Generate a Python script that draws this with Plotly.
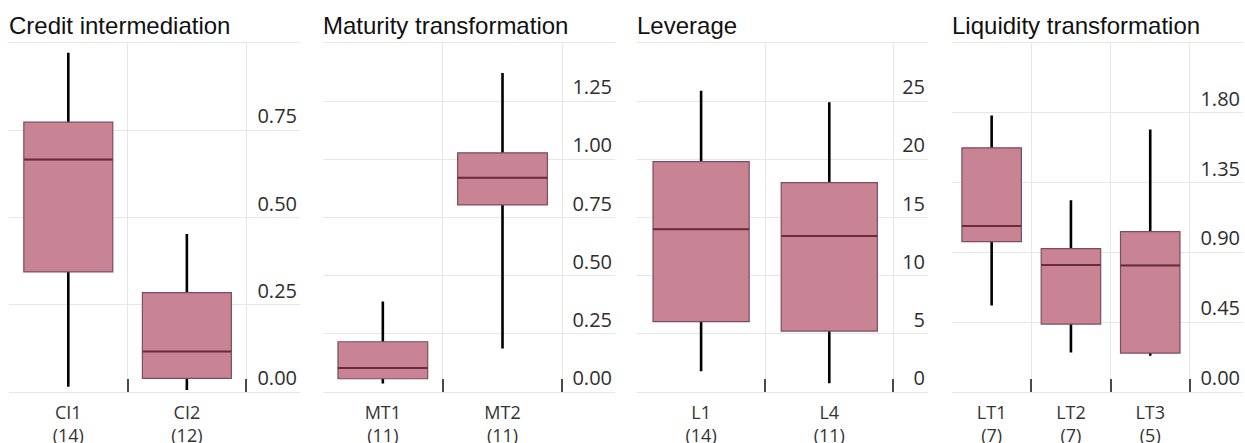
import plotly.graph_objects as go
from plotly.subplots import make_subplots

# panel titles
titles = ["Credit intermediation", "Maturity transformation", "Leverage", "Liquidity transformation"]

# Credit intermediation
ci_cats = ["CI1<br>(14)", "CI2<br>(12)"]
ci_lower = [0.015, 0.006]
ci_q1 = [0.344, 0.039]
ci_median = [0.666, 0.116]
ci_q3 = [0.773, 0.285]
ci_upper = [0.972, 0.453]
ci_ticks = [0, 0.25, 0.5, 0.75]
ci_ticktext = ["0.00", "0.25", "0.50", "0.75"]

# Maturity transformation
mt_cats = ["MT1<br>(11)", "MT2<br>(11)"]
mt_lower = [0.036, 0.187]
mt_q1 = [0.057, 0.804]
mt_median = [0.103, 0.921]
mt_q3 = [0.216, 1.028]
mt_upper = [0.389, 1.371]
mt_ticks = [0, 0.25, 0.5, 0.75, 1.0, 1.25]
mt_ticktext = ["0.00", "0.25", "0.50", "0.75", "1.00", "1.25"]

# Leverage
l_cats = ["L1<br>(14)", "L4<br>(11)"]
l_lower = [1.78, 0.76]
l_q1 = [6.05, 5.24]
l_median = [14.0, 13.4]
l_q3 = [19.8, 18.0]
l_upper = [25.9, 24.9]
l_ticks = [0, 5, 10, 15, 20, 25]
l_ticktext = ["0", "5", "10", "15", "20", "25"]

# Liquidity transformation
lt_cats = ["LT1<br>(7)", "LT2<br>(7)", "LT3<br>(5)"]
lt_lower = [0.557, 0.255, 0.233]
lt_q1 = [0.969, 0.438, 0.251]
lt_median = [1.071, 0.818, 0.816]
lt_q3 = [1.574, 0.924, 1.034]
lt_upper = [1.783, 1.237, 1.692]
lt_ticks = [0, 0.45, 0.9, 1.35, 1.8]
lt_ticktext = ["0.00", "0.45", "0.90", "1.35", "1.80"]

panels = [
    (ci_cats, ci_lower, ci_q1, ci_median, ci_q3, ci_upper, ci_ticks, ci_ticktext, [0, 1.0], 1.954),
    (mt_cats, mt_lower, mt_q1, mt_median, mt_q3, mt_upper, mt_ticks, mt_ticktext, [0, 1.5], 1.94),
    (l_cats, l_lower, l_q1, l_median, l_q3, l_upper, l_ticks, l_ticktext, [0, 30], 1.77),
    (lt_cats, lt_lower, lt_q1, lt_median, lt_q3, lt_upper, lt_ticks, lt_ticktext, [0, 2.25], 3.17),
]

W, H = 1245, 443
domains = [(9, 300), (323, 615), (637, 928), (952, 1243)]

BOX_FILL = "#c88394"
BOX_LINE = "#7d4d5b"
MEDIAN = "#6a2b3c"
GRID = "#e6e6e6"

fig = make_subplots(rows=1, cols=4)

for i, (cats, lo, q1, med, q3, hi, ticks, ticktext, yr, xmax) in enumerate(panels):
    col = i + 1
    # whiskers (black), box body drawn on top hides the inner part
    fig.add_trace(go.Box(
        x=cats, q1=med, median=med, q3=med, lowerfence=lo, upperfence=hi,
        width=0.001, whiskerwidth=0, fillcolor="rgba(0,0,0,0)",
        line=dict(color="black", width=2.6), hoverinfo="skip", showlegend=False,
    ), row=1, col=col)
    # box body
    fig.add_trace(go.Box(
        x=cats, q1=q1, median=med, q3=q3, lowerfence=q1, upperfence=q3,
        width=0.75, whiskerwidth=0, fillcolor=BOX_FILL,
        line=dict(color=BOX_LINE, width=1.2), showlegend=False,
    ), row=1, col=col)
    # thicker median line
    fig.add_trace(go.Box(
        x=cats, q1=med, median=med, q3=med, lowerfence=med, upperfence=med,
        width=0.75, whiskerwidth=0, fillcolor="rgba(0,0,0,0)",
        line=dict(color=MEDIAN, width=2), hoverinfo="skip", showlegend=False,
    ), row=1, col=col)

    d0, d1 = domains[i]
    fig.update_xaxes(
        domain=[d0 / W, d1 / W], type="category", range=[-0.5, xmax], automargin=False,
        tickson="boundaries", ticks="inside", ticklen=13, tickwidth=2, tickcolor="#4a4a4a",
        showgrid=True, gridcolor=GRID, gridwidth=1,
        showline=True, mirror=True, linecolor=GRID, linewidth=1,
        tickfont=dict(family="Open Sans", size=18, color="#333333"),
        ticklabelstandoff=4,
        row=1, col=col,
    )
    fig.update_yaxes(
        range=yr, tickvals=ticks, ticktext=ticktext, side="right", automargin=False,
        ticklabelposition="inside top", ticks="",
        showgrid=True, gridcolor=GRID, gridwidth=1, zeroline=False, showline=False,
        tickfont=dict(family="Open Sans", size=20, color="#2e2e2e"),
        row=1, col=col,
    )
    fig.add_annotation(
        text=titles[i], xref="paper", yref="paper", x=(d0 - 2) / W, y=1 + 18 / 349,
        xanchor="left", yanchor="middle", showarrow=False,
        font=dict(family="Liberation Sans, Arial", size=24, color="#111111"),
    )

fig.update_layout(
    width=W, height=H, boxmode="overlay",
    margin=dict(l=0, r=0, t=43, b=51, autoexpand=False),
    plot_bgcolor="white", paper_bgcolor="white",
)

# the page body has a default 8px margin; drop it so the figure sits at 0,0
fig.write_html(
    "out.html",
    config={"displayModeBar": False},
    post_script="document.body.style.margin='0';",
)
